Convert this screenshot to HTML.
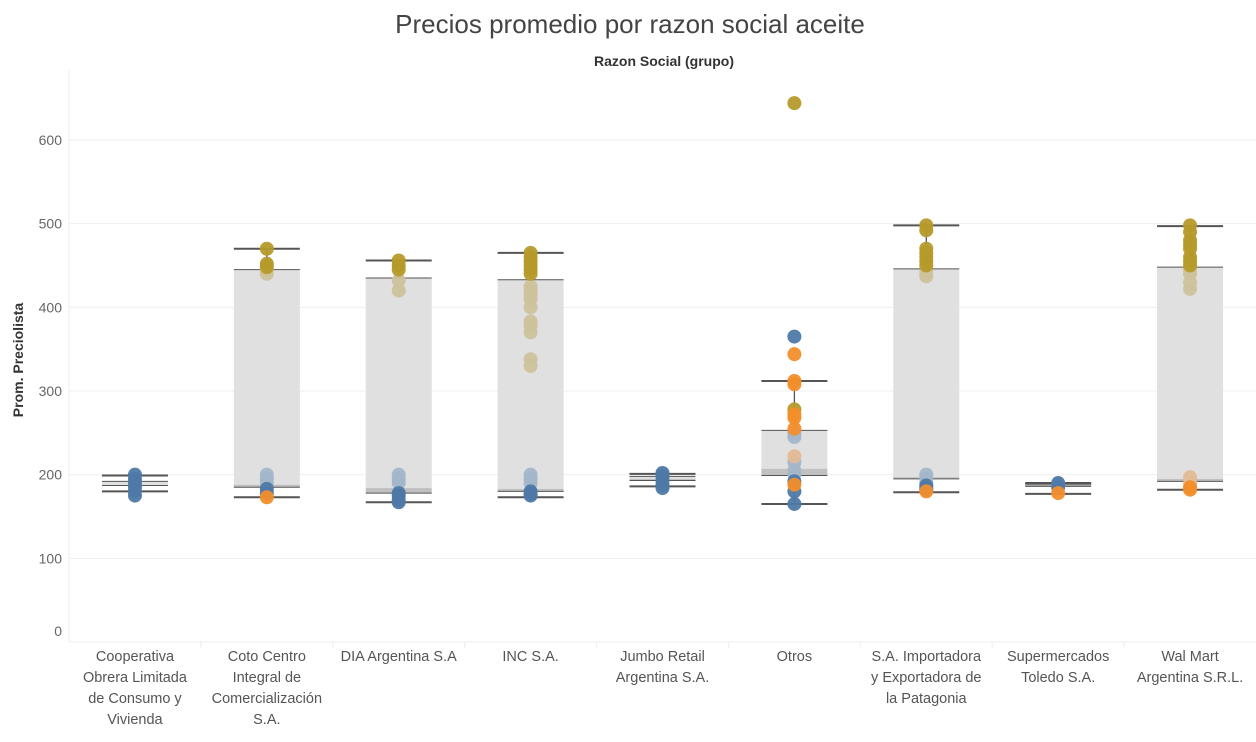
<!DOCTYPE html>
<html><head><meta charset="utf-8"><style>
body{margin:0;background:#fff;font-family:"Liberation Sans",sans-serif;}
svg text{font-family:"Liberation Sans",sans-serif;}
</style></head><body>
<svg id="chart" width="1256" height="737" xmlns="http://www.w3.org/2000/svg">
<text x="630" y="33" text-anchor="middle" font-size="26" fill="#444">Precios promedio por razon social aceite</text>
<text x="664" y="66" text-anchor="middle" font-size="14" font-weight="bold" fill="#333">Razon Social (grupo)</text>
<text transform="translate(23,360) rotate(-90)" text-anchor="middle" font-size="14" font-weight="bold" fill="#333">Prom. Preciolista</text>
<g id="grid"></g><g id="boxes"></g><g id="dots"></g><g id="xlabels"></g>
</svg>
<script>
const categories=[["Cooperativa","Obrera Limitada","de Consumo y","Vivienda"],["Coto Centro","Integral de","Comercialización","S.A."],["DIA Argentina S.A"],["INC S.A."],["Jumbo Retail","Argentina S.A."],["Otros"],["S.A. Importadora","y Exportadora de","la Patagonia"],["Supermercados","Toledo S.A."],["Wal Mart","Argentina S.R.L."]];
const yTicks=[0,100,200,300,400,500,600];
const whiskerHigh=[199,470,456,465,201,312,498,190,497];
const boxHigh=[192,445,435,433,198,253,446,188,448];
const boxMid=[187,188,184,183,195,207,197,187,195];
const boxLow=[187,185,178,180,193,199,195,186,192];
const whiskerLow=[180,173,167,173,186,165,179,177,182];
// dots: [category, value, colorKey]
const dotsGold=[[1,470],[1,452],[1,448],[2,456],[2,450],[2,445],[3,465],[3,460],[3,455],[3,450],[3,445],[3,440],[5,644],[5,278],[6,498],[6,492],[6,470],[6,465],[6,460],[6,455],[6,450],[8,498],[8,490],[8,480],[8,475],[8,470],[8,460],[8,455],[8,450]];
const dotsTan=[[1,445],[1,440],[2,432],[2,420],[3,425],[3,420],[3,415],[3,410],[3,400],[3,383],[3,378],[3,370],[3,338],[3,330],[6,442],[6,437],[8,445],[8,440],[8,430],[8,422]];
const dotsLightBlue=[[1,200],[1,195],[1,190],[2,200],[2,195],[2,190],[3,200],[3,195],[3,190],[5,250],[5,245],[5,215],[5,205],[5,200],[6,200],[6,195],[6,190],[7,188]];
const dotsBlue=[[0,200],[0,195],[0,190],[0,185],[0,180],[0,175],[1,183],[1,178],[2,178],[2,175],[2,170],[2,167],[3,180],[3,177],[3,175],[4,202],[4,198],[4,193],[4,188],[4,184],[5,365],[5,192],[5,180],[5,165],[6,187],[6,184],[6,182],[7,190],[7,185]];
const dotsOrange=[[1,173],[5,344],[5,312],[5,308],[5,272],[5,268],[5,255],[5,188],[6,180],[7,178],[8,185],[8,182]];
const dotsPeach=[[5,222],[8,197],[8,190]];
const NS="http://www.w3.org/2000/svg";
const L=69,R=1256,colW=(R-L)/categories.length;
function x(i){return L+colW*(i+0.5);}
function y(v){return 642-v*0.8367;}
function mk(t,a,p){const e=document.createElementNS(NS,t);for(const k in a)e.setAttribute(k,a[k]);p.appendChild(e);return e;}
const grid=document.getElementById('grid');
mk('line',{x1:L,y1:70,x2:L,y2:642,stroke:'#eee'},grid);
yTicks.forEach(t=>{
 const g=mk('line',{x1:L,y1:y(t),x2:R,y2:y(t),stroke:'#efefef'},grid);
 
 
 const tx=mk('text',{x:62,y:(t===0?636:y(t)+5),'text-anchor':'end','font-size':14,fill:'#666'},grid);
 tx.textContent=t;
 
 
});
for(let i=1;i<categories.length;i++){mk('line',{x1:L+colW*i,y1:642,x2:L+colW*i,y2:648,stroke:'#eee'},grid);}
const boxes=document.getElementById('boxes');
const bw=66;
categories.forEach((c,i)=>{
 const cx=x(i),x0=cx-bw/2;
 const g=mk('g',{},boxes);
 
 
 mk('rect',{x:x0,y:y(boxHigh[i]),width:bw,height:y(boxMid[i])-y(boxHigh[i]),fill:'#e0e0e0'},g);
 mk('rect',{x:x0,y:y(boxMid[i]),width:bw,height:Math.max(0,y(boxLow[i])-y(boxMid[i])),fill:'#c0c0c0'},g);
 mk('line',{x1:cx,y1:y(whiskerHigh[i]),x2:cx,y2:y(boxHigh[i]),stroke:'#555','stroke-width':1.3},g);
 mk('line',{x1:cx,y1:y(boxLow[i]),x2:cx,y2:y(whiskerLow[i]),stroke:'#555','stroke-width':1.3},g);
 mk('line',{x1:x0,y1:y(boxHigh[i]),x2:x0+bw,y2:y(boxHigh[i]),stroke:'#555','stroke-width':1},g);
 mk('line',{x1:x0,y1:y(boxLow[i]),x2:x0+bw,y2:y(boxLow[i]),stroke:'#555','stroke-width':1},g);
 mk('line',{x1:x0,y1:y(whiskerHigh[i]),x2:x0+bw,y2:y(whiskerHigh[i]),stroke:'#555','stroke-width':2},g);
 mk('line',{x1:x0,y1:y(whiskerLow[i]),x2:x0+bw,y2:y(whiskerLow[i]),stroke:'#555','stroke-width':2},g);
 const xl=document.getElementById('xlabels');
 c.forEach((ln,j)=>{const t=mk('text',{x:cx,y:661+j*21,'text-anchor':'middle','font-size':14.5,fill:'#555'},xl);t.textContent=ln;
  
  });
});
const dots=document.getElementById('dots');
[[dotsTan,'#cdc29c'],[dotsLightBlue,'#a3b6c9'],[dotsPeach,'#e3bb95'],[dotsGold,'#b59a2a'],[dotsBlue,'#4e79a7'],[dotsOrange,'#f28e2b']].forEach(([arr,col])=>{
 arr.forEach(d=>{const c=mk('circle',{cx:x(d[0]),cy:y(d[1]),r:7,fill:col,opacity:0.95},dots);
  
  });
});
</script>
</body></html>
